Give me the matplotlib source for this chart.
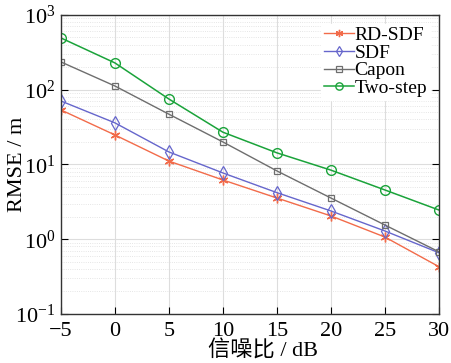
import numpy as np
import matplotlib.pyplot as plt
from matplotlib.ticker import LogLocator, NullFormatter

snr = [-5, 0, 5, 10, 15, 20, 25, 30]
rd_sdf = [53.6, 24.8, 11.1, 6.2, 3.56, 2.05, 1.07, 0.43]
sdf = [70.6, 36, 14.7, 7.7, 4.2, 2.39, 1.29, 0.66]
capon = [235, 112, 47, 20, 8.2, 3.56, 1.55, 0.68]
two_step = [492, 228, 75, 27, 14.3, 8.4, 4.56, 2.46]

plt.rcParams['font.family'] = ['Liberation Serif', 'Noto Sans CJK SC']
plt.rcParams['mathtext.fontset'] = 'stix'

fig = plt.figure(figsize=(4.51, 3.63), dpi=100)
ax = fig.add_axes([0.135, 0.135, 0.838, 0.824])

ax.semilogy(snr, rd_sdf, '-', marker=(6, 2, 0), color='#f26b4a', lw=1, ms=7, mew=1, label='RD-SDF')
ax.semilogy(snr, sdf, '-d', color='#6666cc', lw=1, ms=7, mfc='none', mew=0.9, label='SDF')
ax.semilogy(snr, capon, '-s', color='#6e6e6e', lw=1, ms=5, mfc='none', mew=0.9, label='Capon')
ax.semilogy(snr, two_step, '-o', color='#1aa33a', lw=1.1, ms=7, mfc='none', mew=1, label='Two-step')

ax.set_xlim(-5, 30)
ax.set_ylim(0.1, 1000)
ax.set_xticks(snr)
ax.yaxis.set_major_locator(LogLocator(base=10, numticks=10))
ax.yaxis.set_minor_locator(LogLocator(base=10, subs=np.arange(2, 10), numticks=10))
ax.yaxis.set_minor_formatter(NullFormatter())

ax.grid(True, which='major', color='#dddddd', lw=0.8)
ax.grid(True, which='minor', axis='y', color='#dddddd', lw=0.6, ls=':')
ax.tick_params(direction='in', which='both', labelsize=16, right=True, length=5)
ax.tick_params(axis='y', pad=4)
ax.tick_params(axis='x', pad=5.5)
ax.tick_params(which='minor', length=0)
for s in ax.spines.values():
    s.set_color('#333333')
    s.set_linewidth(1)

ax.set_xlabel('信噪比 / dB', fontsize=16)
ax.xaxis.set_label_coords(0.535, -0.088)
ax.set_ylabel('RMSE / m', fontsize=16)
ax.yaxis.set_label_coords(-0.09, 0.5)

leg = ax.legend(loc='upper right', fontsize=14, frameon=True, fancybox=False,
                edgecolor='white', framealpha=1, borderpad=0.15, labelspacing=0.0,
                handlelength=1.5, handletextpad=0.05, borderaxespad=0.45, markerscale=0.75)

fig.savefig('out.png', dpi=100)
